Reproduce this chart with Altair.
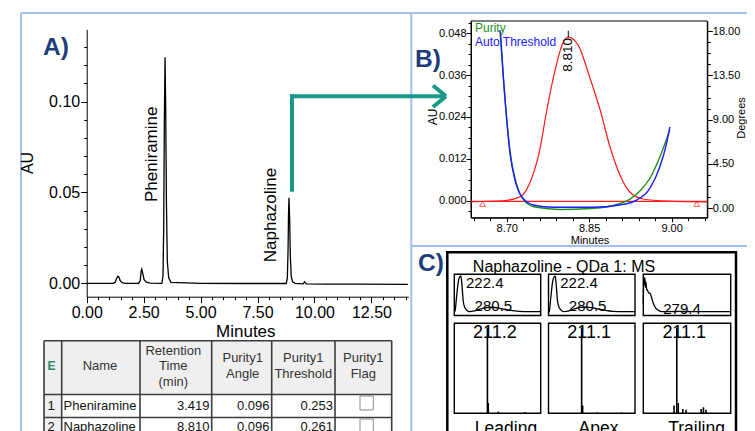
import altair as alt
import pandas as pd

# ======================= DATA =======================
# Panel A - chromatogram (minutes, AU)
chrom_time = [0.00, 0.60, 1.15, 1.25, 1.31, 1.36, 1.41, 1.47, 1.55, 1.70,
              2.28, 2.35, 2.39, 2.42, 2.46, 2.52, 2.62, 2.80,
              3.30, 3.35, 3.38, 3.41, 3.44, 3.47, 3.50, 3.54, 3.60, 3.70,
              5.00, 7.00, 8.76, 8.81, 8.84, 8.86, 8.88, 8.91, 8.94, 8.98, 9.04, 9.15,
              9.50, 9.57, 9.64, 10.50, 12.00, 14.10]
chrom_au = [0.0000, 0.0000, 0.0000, 0.0005, 0.0025, 0.0038, 0.0036, 0.0015, 0.0004, 0.0000,
            0.0000, 0.0015, 0.0065, 0.0077, 0.0055, 0.0020, 0.0006, 0.0001,
            0.0000, 0.0040, 0.0300, 0.0900, 0.1244, 0.0950, 0.0450, 0.0120, 0.0030, 0.0005,
            0.0000, -0.0001, -0.0001, 0.0030, 0.0180, 0.0370, 0.0471, 0.0360, 0.0150, 0.0040, 0.0008, 0.0000,
            -0.0003, 0.0008, -0.0003, -0.0004, -0.0005, -0.0006]
peak_names = ["Pheniramine", "Naphazoline"]
peak_label_time = [2.86, 8.08]
peak_label_au = [0.0710, 0.0376]
a_x_major = [0.0, 2.5, 5.0, 7.5, 10.0, 12.5]
a_x_minor = [round(0.5 * i, 2) for i in range(29)]
a_y_major = [0.00, 0.05, 0.10]
a_y_minor = [round(0.01 * i, 2) for i in range(14)]

# Panel B - purity plot
b_peak_time = [8.635, 8.693, 8.724, 8.742, 8.760, 8.773, 8.788, 8.802, 8.812, 8.830,
               8.851, 8.870, 8.888, 8.906, 8.924, 8.948, 8.991, 9.065]
b_peak_au = [-0.0003, 0.0000, 0.0011, 0.0051, 0.0145, 0.0260, 0.0374, 0.0451, 0.0469, 0.0446,
             0.0354, 0.0260, 0.0154, 0.0074, 0.0025, 0.0005, -0.0001, -0.0003]
b_base_time = [8.635, 9.065]
b_base_au = [-0.0002, -0.0002]
b_marker_time = [8.656, 9.046]
b_marker_au = [-0.0009, -0.0009]
b_apex_time = [8.812]
b_apex_au = [0.0469]
b_apex_label = ["8.810"]
purity_time = [8.6887, 8.6942, 8.7005, 8.7069, 8.7169, 8.7296, 8.7515, 8.7970, 8.8515,
               8.8970, 8.9242, 8.9424, 8.9605, 8.9787, 8.9969]
purity_deg = [17.9, 13.0, 8.76, 5.40, 2.66, 0.94, 0.13, -0.12, -0.02, 0.34, 0.94, 1.76, 3.05, 5.21, 7.97]
thresh_time = [8.6878, 8.6938, 8.7000, 8.7060, 8.7151, 8.7273, 8.7484, 8.7847, 8.8575,
               8.9060, 8.9364, 8.9605, 8.9787, 8.9909, 8.9969]
thresh_deg = [18.1, 13.36, 8.96, 5.61, 2.87, 1.18, 0.34, 0.10, 0.10, 0.34, 0.84, 2.03, 4.22, 6.60, 8.28]
b_x_major = [8.70, 8.85, 9.00]
b_x_minor = [round(8.64 + 0.03 * i, 2) for i in range(15)]
b_au_major = [0.000, 0.012, 0.024, 0.036, 0.048]
b_au_minor = [round(-0.003 + 0.003 * i, 3) for i in range(19)]
b_deg_major = [0.0, 4.5, 9.0, 13.5, 18.0]
b_deg_minor = [round(1.125 * i, 3) for i in range(17)]

# Panel C - UV spectra (nm, relative absorbance)
uv_wl = [210, 211.5, 214, 217, 219.5, 222.4, 224.0, 226.7, 229, 231.7, 235, 239, 248, 258,
         270, 281, 292, 305, 318, 330, 350, 370]
uv_leading = [0.09, 0.12, 0.45, 0.82, 0.97, 1.00, 0.80, 0.35, 0.22, 0.155, 0.11, 0.097, 0.12, 0.165,
              0.20, 0.21, 0.19, 0.15, 0.125, 0.105, 0.097, 0.097]
uv_apex = [0.08, 0.11, 0.42, 0.80, 0.96, 1.00, 0.82, 0.37, 0.23, 0.16, 0.115, 0.10, 0.12, 0.17,
           0.205, 0.215, 0.195, 0.155, 0.125, 0.105, 0.098, 0.097]
uv_trail_wl = [210, 211, 212, 213, 214, 215, 216.2, 217.5, 219.2, 222.3, 225.4, 228.3, 233.2, 239.3,
               246.6, 260, 279.4, 300, 330, 370]
uv_trailing = [0.30, 0.98, 0.78, 0.95, 0.72, 0.85, 0.65, 0.66, 0.58, 0.566, 0.44, 0.31, 0.18, 0.12,
               0.097, 0.10, 0.105, 0.10, 0.097, 0.097]
uv_peak_labels = [["222.4", "280.5"], ["222.4", "280.5"], ["279.4"]]
uv_peak_wl = [[222.4, 280.5], [222.4, 280.5], [279.0]]
uv_peak_abs = [[0.71, 0.12], [0.71, 0.12], [0.04]]

# Panel C - mass spectra (m/z, relative intensity)
ms_leading_mz = [211.2, 214.0, 248.0, 337.0]
ms_leading_int = [100, 12, 2, 1.5]
ms_apex_mz = [211.1, 214.5, 262.0, 345.0]
ms_apex_int = [100, 9, 1, 0.8]
ms_trailing_mz = [202.0, 211.1, 216.0, 231.0, 242.0, 292.0, 299.5, 308.0]
ms_trailing_int = [9, 100, 12, 5, 4, 5, 7, 4]
ms_base_labels = ["211.2", "211.1", "211.1"]
ms_base_mz = [211.2, 211.1, 211.1]
scan_names = ["Leading", "Apex", "Trailing"]

# Table
tbl_headers = ["Name", "Retention\nTime\n(min)", "Purity1\nAngle", "Purity1\nThreshold", "Purity1\nFlag"]
tbl_names = ["Pheniramine", "Naphazoline"]
tbl_rt = ["3.419", "8.810"]
tbl_angle = ["0.096", "0.096"]
tbl_threshold = ["0.253", "0.261"]

# ======================= STYLE / LAYOUT =======================
W, H = 739, 423
M = 8  # page margin: reference pixel -> canvas pixel
FONT = "Liberation Sans"
NAVY = "#1e3d7b"
TEAL = "#17998a"
FRAME = "#a4c1ec"
GREEN = "#1f8f1f"
BLUE = "#1a1aff"
RED = "#ff1a1a"


def c(v):
    return v - M


def qscale(dom, rng):
    return alt.Scale(domain=dom, range=rng, nice=False, zero=False)


def ax(orient, offset, values, fmt=None, labels=True, tick=5, pad=1, fs=11, domain=True):
    kw = dict(orient=orient, offset=offset, values=values, tickSize=tick, labels=labels,
              domain=domain, title=None, grid=False, labelFlush=False, labelOverlap=False,
              labelFontSize=fs, labelPadding=pad, domainWidth=1, tickWidth=1,
              domainColor="black", tickColor="black", labelColor="black", labelFont=FONT)
    if fmt:
        kw["format"] = fmt
    return alt.Axis(**kw)


def pix(df):
    return dict(x=alt.X("x:Q", scale=None, axis=None), y=alt.Y("y:Q", scale=None, axis=None))


def texts(rows, size, color="black", weight="normal", angle=0, align="center",
          baseline="middle", line_height=None):
    df = pd.DataFrame(rows, columns=["x", "y", "t"])
    df["x"] = df["x"] - M
    df["y"] = df["y"] - M
    kw = dict(fontSize=size, color=color, fontWeight=weight, angle=angle, align=align,
              baseline=baseline, font=FONT)
    if line_height:
        kw.update(lineBreak="\n", lineHeight=line_height)
    return alt.Chart(df).mark_text(**kw).encode(text="t:N", **pix(df))


def rules(segs, color, width):
    df = pd.DataFrame(segs, columns=["x", "y", "x2", "y2"]) - M
    return alt.Chart(df).mark_rule(color=color, strokeWidth=width).encode(
        x2="x2:Q", y2="y2:Q", **pix(df))


def rects(boxes, fill, stroke, width):
    df = pd.DataFrame(boxes, columns=["x", "y", "x2", "y2"]) - M
    return alt.Chart(df).mark_rect(fill=fill, stroke=stroke, strokeWidth=width).encode(
        x2="x2:Q", y2="y2:Q", **pix(df))


layers = []

# ---------------- frames ----------------
layers.append(rules([(21, 13, 21, 445), (21, 13, 760, 13), (411.3, 13, 411.3, 445),
                     (411.3, 246, 760, 246)], FRAME, 2))

# ---------------- Panel A ----------------
A_X = [c(86.7), c(408.3)]
A_Y = [c(296.7), c(29.3)]
A_XD = [0, 14.12]
A_YD = [-0.00737, 0.13979]
chrom = pd.DataFrame({"t": chrom_time, "au": chrom_au})
layers.append(alt.Chart(chrom).mark_line(color="black", strokeWidth=1.3).encode(
    x=alt.X("t:Q", scale=qscale(A_XD, A_X),
            axis=ax("bottom", c(296.7) - H, a_x_minor, labels=False, tick=3, domain=False)),
    y=alt.Y("au:Q", scale=qscale(A_YD, A_Y),
            axis=ax("left", -c(86.7), a_y_minor, labels=False, tick=3, domain=False)),
))
plab = pd.DataFrame({"t": peak_label_time, "au": peak_label_au, "name": peak_names})
layers.append(alt.Chart(plab).mark_text(angle=270, fontSize=17, font=FONT, color="black",
                                          align="center", baseline="middle").encode(
    x=alt.X("t:Q", scale=qscale(A_XD, A_X),
            axis=ax("bottom", c(296.7) - H, a_x_major, fmt=".2f", tick=6, pad=2, fs=16)),
    y=alt.Y("au:Q", scale=qscale(A_YD, A_Y),
            axis=ax("left", -c(86.7), a_y_major, fmt=".2f", tick=6, pad=1, fs=16)),
    text="name:N",
))

# ---------------- Panel B ----------------
B_X = [c(471), c(707.3)]
B_Y = [c(217.7), c(21)]
B_XD = [8.635, 9.065]
B_AUD = [-0.00486, 0.0515]
B_DGD = [-0.954, 19.02]
layers.append(rects([(471, 21, 707.3, 217.7)], "transparent", "black", 1))
peak = pd.DataFrame({"t": b_peak_time, "au": b_peak_au})
layers.append(alt.Chart(peak).mark_line(color=RED, strokeWidth=1.2, interpolate="monotone").encode(
    x=alt.X("t:Q", scale=qscale(B_XD, B_X),
            axis=ax("bottom", c(217.7) - H, b_x_minor, labels=False, tick=3, domain=False)),
    y=alt.Y("au:Q", scale=qscale(B_AUD, B_Y),
            axis=ax("left", -c(471), b_au_minor, labels=False, tick=3, domain=False)),
))
base = pd.DataFrame({"t": b_base_time, "au": b_base_au})
layers.append(alt.Chart(base).mark_line(color=RED, strokeWidth=1.2).encode(
    x=alt.X("t:Q", scale=qscale(B_XD, B_X),
            axis=ax("bottom", c(217.7) - H, b_x_major, fmt=".2f", tick=4, pad=1, fs=11)),
    y=alt.Y("au:Q", scale=qscale(B_AUD, B_Y),
            axis=ax("left", -c(471), b_au_major, fmt=".3f", tick=5, pad=0, fs=11)),
))
marks = pd.DataFrame({"t": b_marker_time, "au": b_marker_au})
layers.append(alt.Chart(marks).mark_point(shape="triangle-up", filled=False, color=RED,
                                           size=35, strokeWidth=1).encode(
    x=alt.X("t:Q", scale=qscale(B_XD, B_X), axis=None),
    y=alt.Y("au:Q", scale=qscale(B_AUD, B_Y), axis=None),
))
apex = pd.DataFrame({"t": b_apex_time, "au": b_apex_au, "lab": b_apex_label,
                     "top": [b_apex_au[0] + 0.0018]})
layers.append(alt.Chart(apex).mark_rule(color="black", strokeWidth=1).encode(
    x=alt.X("t:Q", scale=qscale(B_XD, B_X), axis=None),
    y=alt.Y("au:Q", scale=qscale(B_AUD, B_Y), axis=None),
    y2="top:Q",
))
layers.append(alt.Chart(apex).mark_text(angle=270, align="right", baseline="middle",
                                          fontSize=13.5, font=FONT, color="black", dx=-1).encode(
    x=alt.X("t:Q", scale=qscale(B_XD, B_X), axis=None),
    y=alt.Y("au:Q", scale=qscale(B_AUD, B_Y), axis=None),
    text="lab:N",
))
pur = pd.DataFrame({"t": purity_time, "d": purity_deg})
layers.append(alt.Chart(pur).mark_line(color=GREEN, strokeWidth=1.4, interpolate="monotone").encode(
    x=alt.X("t:Q", scale=qscale(B_XD, B_X), axis=None),
    y=alt.Y("d:Q", scale=qscale(B_DGD, B_Y),
            axis=ax("right", c(707.3) - W, b_deg_minor, labels=False, tick=3, domain=False)),
))
thr = pd.DataFrame({"t": thresh_time, "d": thresh_deg})
layers.append(alt.Chart(thr).mark_line(color=BLUE, strokeWidth=1.4, interpolate="monotone").encode(
    x=alt.X("t:Q", scale=qscale(B_XD, B_X), axis=None),
    y=alt.Y("d:Q", scale=qscale(B_DGD, B_Y),
            axis=ax("right", c(707.3) - W, b_deg_major, fmt=".2f", tick=5, pad=0, fs=11)),
))

# ---------------- Panel C ----------------
C_XR = [[c(454.3), c(540.7)], [c(548.5), c(635.0)], [c(643.3), c(730.7)]]
UV_Y = [c(315.5), c(274.3)]
MS_Y = [c(413.3), c(323.3)]
UV_D = [210, 370]
MS_D = [100, 390]
uv_sets = [(uv_wl, uv_leading), (uv_wl, uv_apex), (uv_trail_wl, uv_trailing)]
ms_sets = [(ms_leading_mz, ms_leading_int), (ms_apex_mz, ms_apex_int), (ms_trailing_mz, ms_trailing_int)]
for i in range(3):
    xr = C_XR[i]
    wl, ab = uv_sets[i]
    uv = pd.DataFrame({"wl": wl, "a": ab})
    layers.append(alt.Chart(uv).mark_line(color="black", strokeWidth=1.3, interpolate="monotone").encode(
        x=alt.X("wl:Q", scale=qscale(UV_D, xr), axis=None),
        y=alt.Y("a:Q", scale=qscale([0, 1.05], UV_Y), axis=None),
    ))
    for j, lab in enumerate(uv_peak_labels[i]):
        first = (j == 0 and i < 2)
        lab_df = pd.DataFrame({"wl": [uv_peak_wl[i][j]], "a": [uv_peak_abs[i][j]], "lab": [lab]})
        layers.append(alt.Chart(lab_df).mark_text(
            fontSize=15, font=FONT, color="black", baseline="alphabetic",
            align="left" if first else "center", dx=5 if first else 1).encode(
            x=alt.X("wl:Q", scale=qscale(UV_D, xr), axis=None),
            y=alt.Y("a:Q", scale=qscale([0, 1.05], UV_Y), axis=None),
            text="lab:N",
        ))
    mz, inten = ms_sets[i]
    ms = pd.DataFrame({"mz": mz, "i": inten, "z": [0] * len(mz)})
    layers.append(alt.Chart(ms).mark_rule(color="black", strokeWidth=1.6).encode(
        x=alt.X("mz:Q", scale=qscale(MS_D, xr), axis=None),
        y=alt.Y("i:Q", scale=qscale([0, 105], MS_Y), axis=None),
        y2="z:Q",
    ))
    ml = pd.DataFrame({"mz": [ms_base_mz[i]], "i": [100], "lab": [ms_base_labels[i]]})
    layers.append(alt.Chart(ml).mark_text(fontSize=18, font=FONT, color="black", align="center",
                                            baseline="alphabetic", dx=7.5, dy=10.5).encode(
        x=alt.X("mz:Q", scale=qscale(MS_D, xr), axis=None),
        y=alt.Y("i:Q", scale=qscale([0, 105], MS_Y), axis=None),
        text="lab:N",
    ))

# C sub-frames and outer box
sub_boxes = []
for lo, hi in [(454.3, 540.7), (548.5, 635.0), (643.3, 730.7)]:
    sub_boxes.append((lo, 274.3, hi, 315.5))
    sub_boxes.append((lo, 323.3, hi, 413.3))
layers.append(rects(sub_boxes, "transparent", "black", 1.4))
layers.append(rects([(447.3, 252.3, 736, 460)], "transparent", "black", 2.5))

# ---------------- Table ----------------
COLS = [44, 61.7, 140, 211.7, 271.7, 335, 391.7]
ROWS = [340.7, 394.5, 417.5, 440.5]
layers.append(rects([(COLS[0], ROWS[0], COLS[-1], ROWS[1]), (COLS[0], ROWS[1], COLS[1], ROWS[-1])],
                    "#efefef", "transparent", 0))
grid = [(x, ROWS[0], x, ROWS[-1]) for x in COLS] + [(COLS[0], y, COLS[-1], y) for y in ROWS]
layers.append(rules(grid, "#3c3c3c", 1.6))
layers.append(rects([(360, 396, 373.3, 410), (360, 419, 373.3, 433)], "white", "#8a8a8a", 1))
head_x = [100, 173.3, 242.7, 303.3, 363.3]
LH = 15.5
head_rows = []
for k in range(5):
    n_lines = tbl_headers[k].count("\n") + 1
    head_rows.append((head_x[k], 366 - (n_lines - 1) * LH / 2, tbl_headers[k]))
layers.append(texts(head_rows, 13, color="#333333", line_height=LH))
layers.append(texts([(51.5, 366, "E")], 12, color="#2b8a67", weight="bold"))
row_y = [406, 426.5]
layers.append(texts([(51, row_y[r], str(r + 1)) for r in range(2)], 13, color="#111111"))
layers.append(texts([(63.5, row_y[r], tbl_names[r]) for r in range(2)], 13, color="#111111",
                    align="left"))
vals = []
for r in range(2):
    vals += [(209.5, row_y[r], tbl_rt[r]), (269.5, row_y[r], tbl_angle[r]),
             (333, row_y[r], tbl_threshold[r])]
layers.append(texts(vals, 13, color="#111111", align="right"))

# ---------------- arrow ----------------
layers.append(rules([(292, 191.7, 292, 94.2), (290, 96.2, 444, 96.2),
                     (433, 85.5, 446, 96.2), (433, 107, 446, 96.2)], TEAL, 4))

# ---------------- texts ----------------
layers.append(texts([(43, 54.5, "A)"), (415, 66.5, "B)"), (418, 270.5, "C)")], 24.5, color=NAVY,
                    weight="bold", align="left", baseline="alphabetic"))
layers.append(texts([(28.3, 163, "AU")], 16, angle=270))
layers.append(texts([(245.8, 332, "Minutes")], 17))
layers.append(texts([(432.5, 117, "AU")], 12, angle=270))
layers.append(texts([(741.5, 118, "Degrees")], 11, angle=270))
layers.append(texts([(590, 241, "Minutes")], 11))
layers.append(texts([(475, 28, "Purity")], 12, color=GREEN, align="left"))
layers.append(texts([(475, 41.5, "Auto Threshold")], 12, color=BLUE, align="left"))
layers.append(texts([(564, 272, "Naphazoline - QDa 1: MS")], 16, baseline="alphabetic"))
layers.append(texts([(506, 433.5, scan_names[0]), (598.5, 433.5, scan_names[1]),
                     (696.5, 433.5, scan_names[2])], 17.5, baseline="alphabetic"))

chart = alt.layer(*layers).resolve_scale(x="independent", y="independent").resolve_axis(
    x="independent", y="independent").properties(
    width=W, height=H, autosize=alt.AutoSizeParams(type="none"), padding=0
).configure_view(stroke=None)

chart.save("out.html", embed_options={"renderer": "svg", "actions": False})
